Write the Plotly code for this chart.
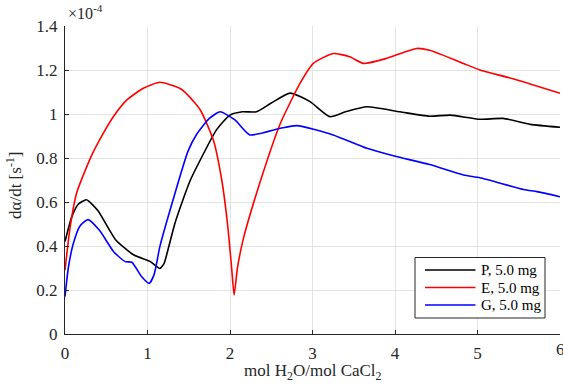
import plotly.graph_objects as go

# values in units of 1e-4 s^-1
p_x = [0.0, 0.08, 0.16, 0.26, 0.40, 0.61, 0.83, 1.03, 1.10, 1.15, 1.20, 1.26, 1.33, 1.42, 1.52, 1.84, 2.0, 2.15, 2.32, 2.5, 2.73, 2.97, 3.21, 3.4, 3.66, 4.06, 4.42, 4.67, 5.03, 5.31, 5.64, 6.0]
p_y = [0.42, 0.53, 0.59, 0.61, 0.56, 0.43, 0.36, 0.33, 0.31, 0.298, 0.32, 0.40, 0.50, 0.60, 0.70, 0.93, 0.995, 1.01, 1.01, 1.05, 1.095, 1.056, 0.988, 1.01, 1.033, 1.01, 0.99, 0.995, 0.976, 0.98, 0.953, 0.94]

e_x = [0.0, 0.06, 0.14, 0.32, 0.46, 0.59, 0.75, 0.95, 1.15, 1.39, 1.49, 1.64, 1.80, 1.9, 1.97, 2.02, 2.05, 2.09, 2.16, 2.36, 2.61, 2.85, 3.01, 3.25, 3.45, 3.62, 3.9, 4.26, 4.42, 4.83, 5.03, 5.43, 6.0]
e_y = [0.29, 0.48, 0.64, 0.81, 0.91, 0.99, 1.064, 1.117, 1.144, 1.117, 1.086, 1.018, 0.88, 0.70, 0.50, 0.30, 0.177, 0.30, 0.43, 0.685, 0.957, 1.14, 1.23, 1.275, 1.26, 1.23, 1.253, 1.298, 1.29, 1.23, 1.20, 1.16, 1.094]

g_x = [0.0, 0.04, 0.1, 0.18, 0.28, 0.42, 0.59, 0.73, 0.81, 0.93, 1.02, 1.08, 1.15, 1.31, 1.49, 1.6, 1.75, 1.88, 2.06, 2.24, 2.61, 2.81, 3.25, 3.66, 3.98, 4.42, 4.83, 5.03, 5.56, 5.72, 6.0]
g_y = [0.17, 0.30, 0.41, 0.49, 0.52, 0.47, 0.374, 0.329, 0.326, 0.26, 0.23, 0.27, 0.397, 0.61, 0.83, 0.91, 0.98, 1.01, 0.973, 0.905, 0.935, 0.947, 0.905, 0.844, 0.81, 0.77, 0.723, 0.71, 0.657, 0.647, 0.624]

names = ["P, 5.0 mg", "E, 5.0 mg", "G, 5.0 mg"]
colors = ["#000000", "#ff0000", "#0000ff"]

x_ticks = [0, 1, 2, 3, 4, 5, 6]
y_ticks = [0, 0.2, 0.4, 0.6, 0.8, 1.0, 1.2, 1.4]
y_ticklabels = ["0", "0.2", "0.4", "0.6", "0.8", "1", "1.2", "1.4"]

FONT = "Liberation Serif"
TXT = "#262626"

# plot area in pixels
L, R, T, B = 65, 560, 26, 334
W, H = R - L, B - T


def px(xp):
    return (xp - L) / W


def py(yp):
    return (B - yp) / H


fig = go.Figure()
for xs, ys, n, c in zip([p_x, e_x, g_x], [p_y, e_y, g_y], names, colors):
    fig.add_trace(go.Scatter(x=xs, y=ys, mode="lines", name=n, showlegend=False,
                             line=dict(color=c, width=1.6, shape="spline", smoothing=0.55)))

tickfont = dict(family=FONT, size=17, color=TXT)

shapes = [dict(type="rect", xref="paper", yref="paper",
               x0=px(415), x1=px(545), y0=py(318), y1=py(257.5),
               fillcolor="white", line=dict(color=TXT, width=1), layer="above")]
annotations = []
row_y = [270, 287.5, 305]
for ry, n, c in zip(row_y, names, colors):
    shapes.append(dict(type="line", xref="paper", yref="paper",
                       x0=px(425), x1=px(475.5), y0=py(ry), y1=py(ry),
                       line=dict(color=c, width=1.6), layer="above"))
    annotations.append(dict(text=n, x=px(479), y=py(ry), xref="paper", yref="paper",
                            xanchor="left", yanchor="middle", showarrow=False,
                            font=dict(family=FONT, size=15, color="#000000")))

annotations += [
    dict(text="×10<sup>-4</sup>", x=px(66), y=py(24), xref="paper", yref="paper",
         xanchor="left", yanchor="bottom", showarrow=False,
         font=dict(family=FONT, size=16, color=TXT)),
    dict(text="mol H<sub>2</sub>O/mol CaCl<sub>2</sub>", x=px(313), y=py(372), xref="paper", yref="paper",
         xanchor="center", yanchor="middle", showarrow=False,
         font=dict(family=FONT, size=17, color=TXT)),
    dict(text="dα/dt [s<sup>-1</sup>]", x=px(14), y=py(186), xref="paper", yref="paper",
         xanchor="center", yanchor="middle", showarrow=False, textangle=-90,
         font=dict(family=FONT, size=17, color=TXT)),
    dict(text="6", x=6, y=0, xref="x", yref="paper", xanchor="center", yanchor="top",
         showarrow=False, yshift=-4, font=tickfont),
]

fig.update_layout(
    width=563, height=390,
    font=dict(family=FONT, size=17, color=TXT),
    margin=dict(l=L, r=563 - R, t=T, b=390 - B),
    paper_bgcolor="white", plot_bgcolor="white",
    showlegend=False,
    shapes=shapes,
    annotations=annotations,
)
fig.update_xaxes(range=[0, 6], tickmode="array", tickvals=x_ticks[:-1],
                 ticktext=[str(v) for v in x_ticks[:-1]], tickfont=tickfont,
                 showline=True, linecolor=TXT, linewidth=1, ticks="inside", ticklen=4,
                 tickcolor=TXT, showgrid=True, gridcolor="#e3e3e3", gridwidth=1,
                 zeroline=False, mirror=False, ticklabelstandoff=4)
fig.update_yaxes(range=[0, 1.4], tickmode="array", tickvals=y_ticks, ticktext=y_ticklabels,
                 tickfont=tickfont, ticklabelstandoff=3,
                 showline=True, linecolor=TXT, linewidth=1, ticks="inside", ticklen=4,
                 tickcolor=TXT, showgrid=True, gridcolor="#e3e3e3", gridwidth=1,
                 zeroline=False, mirror=False)

fig.write_html("out.html")
